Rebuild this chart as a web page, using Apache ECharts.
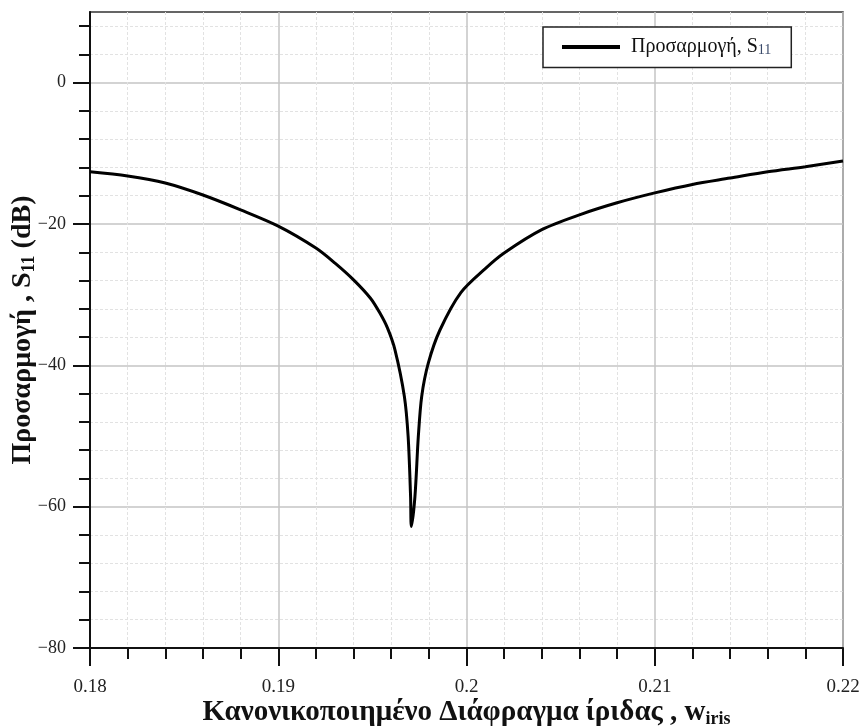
<!DOCTYPE html>
<html>
<head>
<meta charset="utf-8">
<script src="https://cdn.jsdelivr.net/npm/echarts@6/dist/echarts.min.js"></script>
<style>
  html, body { margin: 0; padding: 0; background: #fff; }
  #chart { width: 865px; height: 726px; }
</style>
</head>
<body>
<div id="chart"></div>
<script>
// normalised iris width
const wIris = [0.180, 0.182, 0.184, 0.186, 0.188, 0.190, 0.192, 0.193, 0.194, 0.1949,
  0.1954, 0.1958, 0.1962, 0.1967, 0.1969, 0.19703, 0.19707, 0.19726, 0.19744, 0.19762,
  0.19797, 0.19859, 0.1997, 0.2010, 0.2020, 0.2040, 0.2060, 0.2080, 0.2100,
  0.2120, 0.2140, 0.2160, 0.2180, 0.2200]
// S11 (dB)
const s11 = [-12.6, -13.2, -14.2, -15.9, -18.0, -20.3, -23.4, -25.5, -27.9, -30.5,
  -32.6, -34.7, -37.8, -44.4, -50.1, -58.6, -62.8, -58.6, -50.1, -44.4,
  -39.7, -35.0, -29.7, -26.3, -24.1, -20.8, -18.7, -17.0, -15.6,
  -14.4, -13.5, -12.6, -11.9, -11.1]

const xTicks = [0.18, 0.19, 0.2, 0.21, 0.22]
const yMajor = [-80, -60, -40, -20, 0]
const yMinor = [-76, -72, -68, -64, -56, -52, -48, -44, -36, -32, -28, -24, -16, -12, -8, -4, 4, 8]

const serif = "Liberation Serif"
const myChart = echarts.init(document.getElementById("chart"))

const option = {
    animation: false,
    grid: {
        left: 90, right: 22, top: 12, bottom: 78,
        outerBoundsMode: "none",
        show: true, borderColor: "#333", borderWidth: 1.5, backgroundColor: "#fff"
    },
    legend: {
        left: 543, top: 27,
        padding: [10, 20, 10, 19],
        backgroundColor: "#fff",
        borderColor: "#222", borderWidth: 1.5, borderRadius: 0,
        icon: "rect",
        itemWidth: 58, itemHeight: 4,
        textStyle: {
            fontFamily: serif, fontSize: 20, color: "#111", padding: [0, 0, 0, 6],
            rich: {
                a: {fontFamily: serif, fontSize: 20, color: "#111"},
                b: {fontFamily: serif, fontSize: 14, color: "#3a4a6a", verticalAlign: "bottom", padding: [7, 0, 0, 0]}
            }
        },
        formatter: () => "{a|Προσαρμογή, S}{b|11}"
    },
    xAxis: {
        type: "value",
        min: 0.18, max: 0.22, interval: 0.01,
        name: "{a|Κανονικοποιημένο Διάφραγμα ίριδας , w}{b|iris}",
        nameLocation: "middle", nameGap: 50, nameMoveOverlap: false,
        nameTextStyle: {
            rich: {
                a: {fontFamily: serif, fontSize: 29, fontWeight: "bold", color: "#111"},
                b: {fontFamily: serif, fontSize: 18, fontWeight: "bold", color: "#111", padding: [12, 0, 0, 0]}
            }
        },
        axisLine: {onZero: false, lineStyle: {color: "#111", width: 2}},
        axisTick: {show: true, length: 18, lineStyle: {color: "#111", width: 2}},
        minorTick: {show: true, splitNumber: 5, length: 11, lineStyle: {color: "#111", width: 2}},
        splitLine: {show: true, lineStyle: {color: "#c4c4c4", width: 1.5}},
        minorSplitLine: {show: true, lineStyle: {color: "#e2e2e2", width: 1, type: [3, 2]}},
        axisLabel: {
            margin: 30, fontFamily: serif, fontSize: 19, color: "#222",
            customValues: xTicks,
            formatter: v => String(+v.toFixed(3))
        }
    },
    yAxis: [{
        type: "value",
        min: -80, max: 10, interval: 20,
        name: "{a|Προσαρμογή , S}{b|11}{a| (dB)}",
        nameLocation: "middle", nameGap: 52, nameRotate: 90, nameMoveOverlap: false,
        nameTextStyle: {
            rich: {
                a: {fontFamily: serif, fontSize: 28, fontWeight: "bold", color: "#111"},
                b: {fontFamily: serif, fontSize: 18, fontWeight: "bold", color: "#111", padding: [12, 0, 0, 0]}
            }
        },
        axisLine: {onZero: false, lineStyle: {color: "#111", width: 2}},
        axisTick: {show: true, length: 17, customValues: yMajor, lineStyle: {color: "#111", width: 2}},
        splitLine: {show: true, lineStyle: {color: "#c4c4c4", width: 1.5}},
        axisLabel: {
            margin: 24, fontFamily: serif, fontSize: 18, color: "#222",
            customValues: yMajor,
            formatter: v => String(v).replace("-", "\u2212")
        }
    }, {
        // minor ticks and dotted grid on the same scale
        type: "value",
        position: "left",
        min: -80, max: 10, interval: 4,
        axisLine: {show: false, onZero: false},
        axisTick: {show: true, length: 11, customValues: yMinor, lineStyle: {color: "#111", width: 2}},
        splitLine: {show: true, lineStyle: {color: "#e2e2e2", width: 1, type: [3, 2]}},
        axisLabel: {show: false}
    }],
    series: [{
        name: "Προσαρμογή, S11",
        type: "line",
        yAxisIndex: 0,
        data: wIris.map((w, i) => [w, s11[i]]),
        symbol: "none",
        smooth: 0.3,
        lineStyle: {color: "#000", width: 3},
        itemStyle: {color: "#000"},
        z: 5
    }]
}

myChart.setOption(option)
</script>
</body>
</html>
